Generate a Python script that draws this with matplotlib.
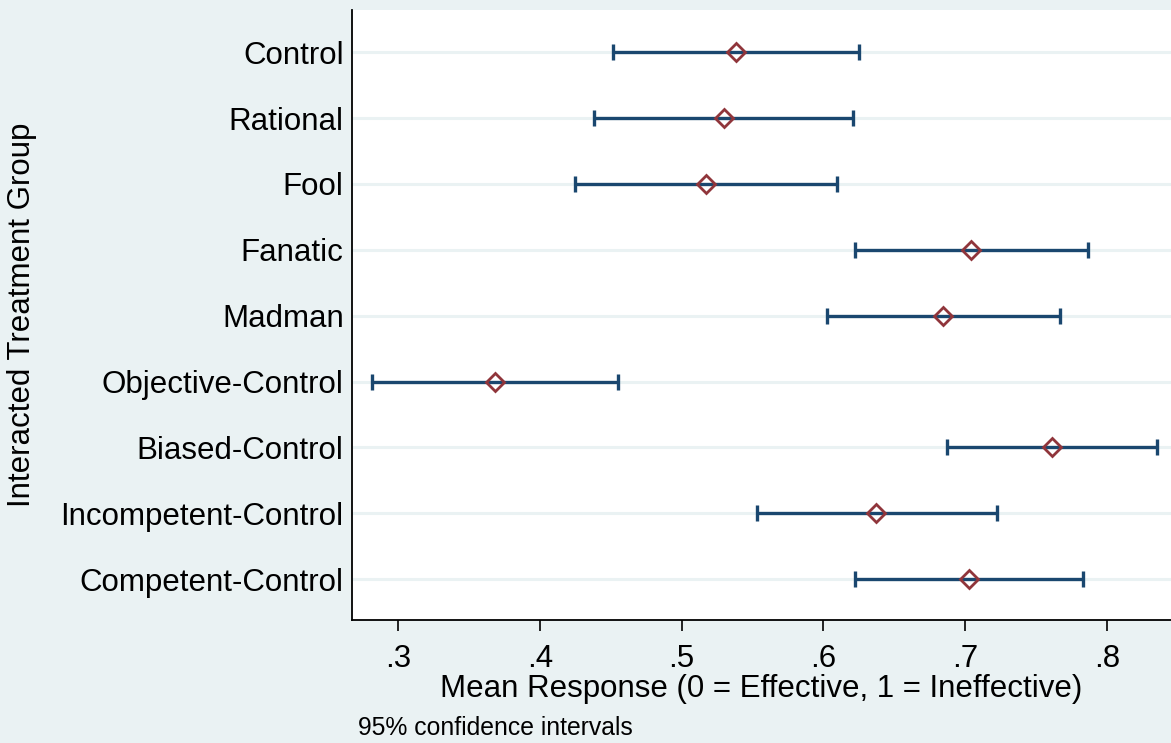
import numpy as np
import matplotlib.pyplot as plt

# data
groups = ['Control', 'Rational', 'Fool', 'Fanatic', 'Madman',
          'Objective-Control', 'Biased-Control', 'Incompetent-Control',
          'Competent-Control']
means = [0.538, 0.5296, 0.5169, 0.7042, 0.6845, 0.3683, 0.7613, 0.6373, 0.7028]
ci_low = [0.4514, 0.4380, 0.4246, 0.6225, 0.6028, 0.2817, 0.6870, 0.5528, 0.6225]
ci_high = [0.6247, 0.6211, 0.6092, 0.7866, 0.7669, 0.4550, 0.8352, 0.7220, 0.7831]
xticks = [0.3, 0.4, 0.5, 0.6, 0.7, 0.8]
xtick_labels = ['.3', '.4', '.5', '.6', '.7', '.8']

bg = '#eaf2f3'
navy = '#1a476f'
maroon = '#90353b'

plt.rcParams['font.family'] = ['Liberation Sans', 'DejaVu Sans']

fig = plt.figure(figsize=(11.71, 7.43), dpi=100, facecolor=bg)
ax = fig.add_axes([352 / 1171, 1 - 620 / 743, 1 - 352 / 1171, 610 / 743])
ax.set_facecolor('white')

ypos = np.arange(len(groups))
means = np.array(means)
err = np.vstack([means - np.array(ci_low), np.array(ci_high) - means])

# lichte horisontale linjer per gruppe
for y in ypos:
    ax.axhline(y, color=bg, linewidth=2.2, zorder=0)

ax.errorbar(means, ypos, xerr=err, fmt='none', ecolor=navy, elinewidth=2.4,
            capsize=5.5, capthick=2.4, zorder=2)
ax.plot(means, ypos, linestyle='None', marker='D', markersize=9,
        markerfacecolor='none', markeredgecolor=maroon, markeredgewidth=2,
        zorder=3)

fs = 22.5
ax.set_ylim(8.62, -0.64)
ax.set_xlim(0.2676, 0.845)
ax.set_yticks(ypos)
ax.set_yticklabels(groups, fontsize=fs)
ax.set_xticks(xticks)
ax.set_xticklabels(xtick_labels, fontsize=fs)
ax.tick_params(axis='y', length=0, pad=6)
ax.tick_params(axis='x', length=8, width=1.2, pad=9, direction='out')

for s in ['top', 'right']:
    ax.spines[s].set_visible(False)
for s in ['left', 'bottom']:
    ax.spines[s].set_linewidth(1.3)
    ax.spines[s].set_color('black')

ax.set_xlabel('Mean Response (0 = Effective, 1 = Ineffective)', fontsize=fs,
              labelpad=0)
fig.text(22 / 1171, 1 - 315 / 743, 'Interacted Treatment Group', rotation=90,
         fontsize=fs, ha='center', va='center')
fig.text(358 / 1171, 1 - 728 / 743, '95% confidence intervals', fontsize=17.8,
         ha='left', va='center')

fig.savefig('out.png', dpi=100, facecolor=bg)
